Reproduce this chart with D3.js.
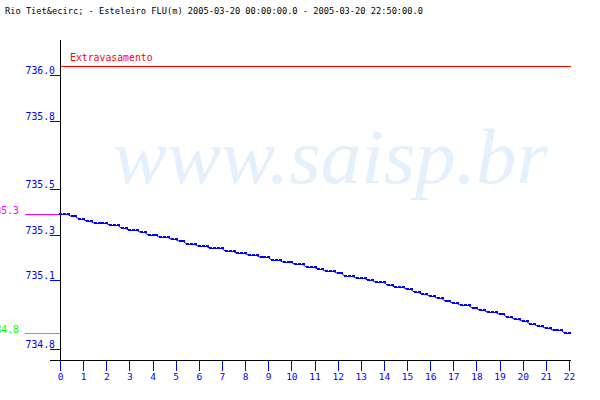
<!DOCTYPE html>
<html><head><meta charset="utf-8">
<script src="https://cdn.jsdelivr.net/npm/d3@7"></script>
<style>
html,body{margin:0;padding:0;background:#fff;}
svg{display:block;}
text{font-family:"DejaVu Sans Mono",monospace;}
</style></head>
<body>
<svg id="chart" width="600" height="400"></svg>
<script>
const title = "Rio Tiet&ecirc; - Esteleiro FLU(m) 2005-03-20 00:00:00.0 - 2005-03-20 22:50:00.0";
const watermark = "www.saisp.br";
const overflowLabel = "Extravasamento";
const overflowLevel = 736.0;
const xTicks = [0,1,2,3,4,5,6,7,8,9,10,11,12,13,14,15,16,17,18,19,20,21,22];
const yTicks = [736.0, 735.8, 735.5, 735.3, 735.1, 734.8];
const yTickLabels = ["736.0","735.8","735.5","735.3","735.1","734.8"];
const maxLabel = "735.3";
const minLabel = "734.8";
const stepMinutes = 10;
// water level (m), every 10 minutes from 00:00
const levels = [
735.39,735.39,735.39,735.38,735.38,735.37,
735.37,735.36,735.36,735.35,735.35,735.35,
735.35,735.34,735.34,735.34,735.33,735.33,
735.32,735.32,735.32,735.31,735.31,735.30,
735.30,735.30,735.29,735.29,735.29,735.28,
735.28,735.27,735.27,735.26,735.26,735.26,
735.25,735.25,735.25,735.24,735.24,735.24,
735.24,735.23,735.23,735.23,735.22,735.22,
735.22,735.21,735.21,735.21,735.20,735.20,
735.20,735.19,735.19,735.19,735.18,735.18,
735.18,735.17,735.17,735.17,735.16,735.16,
735.16,735.15,735.15,735.14,735.14,735.14,
735.13,735.13,735.12,735.12,735.12,735.11,
735.11,735.11,735.10,735.10,735.09,735.09,
735.09,735.08,735.08,735.07,735.07,735.07,
735.06,735.06,735.05,735.05,735.04,735.04,
735.03,735.03,735.02,735.02,735.01,735.01,
735.00,735.00,734.99,734.99,734.99,734.98,
734.98,734.97,734.97,734.96,734.96,734.96,
734.95,734.95,734.94,734.94,734.93,734.93,
734.92,734.92,734.91,734.91,734.90,734.90,
734.89,734.89,734.88,734.88,734.88,734.87,
734.87
];
const flaggedSegments = [26];

const svg = d3.select("#chart");
const x = d3.scaleLinear().domain([0, 22]).range([60, 569]);
const y = d3.scaleLinear().domain([734.8, 736.0]).range([348.6, 75]);
const px = v => Math.round(v) + 0.5;

// watermark
svg.append("text").attr("x", 113).attr("y", 183)
  .attr("textLength", 435).attr("lengthAdjust", "spacingAndGlyphs")
  .style("font-family", "'Liberation Serif','DejaVu Serif',serif")
  .style("font-style", "italic").style("font-size", "78px")
  .attr("fill", "#e4f1fd").text(watermark);

// title
svg.append("text").attr("x", 5).attr("y", 14)
  .attr("textLength", 418).attr("lengthAdjust", "spacingAndGlyphs")
  .style("font-size", "9px").attr("fill", "#000").text(title);

// overflow line
svg.append("line").attr("x1", 60).attr("x2", 571)
  .attr("y1", px(y(overflowLevel)) - 9).attr("y2", px(y(overflowLevel)) - 9)
  .attr("stroke", "#ff0000").attr("shape-rendering", "crispEdges");
svg.append("text").attr("x", 70).attr("y", y(overflowLevel) - 14)
  .style("font-size", "9.8px").attr("fill", "#ff0000").text(overflowLabel);

// axes lines
svg.append("line").attr("x1", 60.5).attr("x2", 60.5).attr("y1", 40).attr("y2", 360)
  .attr("stroke", "#000").attr("shape-rendering", "crispEdges");
svg.append("line").attr("x1", 50).attr("x2", 571).attr("y1", 360.5).attr("y2", 360.5)
  .attr("stroke", "#000").attr("shape-rendering", "crispEdges");

// x axis
const xAxis = d3.axisBottom(x).tickValues(xTicks).tickSize(10).tickPadding(2).tickFormat(d3.format("d"));
const gx = svg.append("g").attr("transform", "translate(0,361)").call(xAxis);
gx.select(".domain").remove();
gx.selectAll("line").attr("stroke", "#0000ff").attr("shape-rendering", "crispEdges");
gx.selectAll("text").attr("fill", "#0000ff").style("font-family", "'DejaVu Sans Mono',monospace")
  .style("font-size", "9.5px").attr("dy", "0.72em");

// y axis
const yAxis = d3.axisLeft(y).tickValues(yTicks).tickSize(10).tickPadding(0)
  .tickFormat((d, i) => yTickLabels[i]);
const gy = svg.append("g").attr("transform", "translate(60,0)").call(yAxis);
gy.select(".domain").remove();
gy.selectAll(".tick").attr("transform", d => `translate(0,${px(y(d))})`);
gy.selectAll("line").attr("stroke", "#0000ff").attr("shape-rendering", "crispEdges");
gy.selectAll("text").attr("fill", "#0000ff").style("font-family", "'DejaVu Sans Mono',monospace")
  .style("font-size", "9.8px").attr("x", -5).attr("dy", "-1.5");

// max / min markers
const vmax = d3.max(levels), vmin = d3.min(levels);
svg.append("line").attr("x1", 25).attr("x2", 60).attr("y1", px(y(vmax))).attr("y2", px(y(vmax)))
  .attr("stroke", "#ff00ff").attr("shape-rendering", "crispEdges");
svg.append("text").attr("x", 19).attr("y", Math.round(y(vmax)) - 0.5).attr("text-anchor", "end")
  .style("font-size", "9.8px").attr("fill", "#ff00ff").text(maxLabel);
svg.append("line").attr("x1", 25).attr("x2", 60).attr("y1", px(y(vmin))).attr("y2", px(y(vmin)))
  .attr("stroke", "#00ff00").attr("shape-rendering", "crispEdges");
svg.append("text").attr("x", 19).attr("y", Math.round(y(vmin)) - 0.5).attr("text-anchor", "end")
  .style("font-size", "9.8px").attr("fill", "#00ff00").text(minLabel);

// data
const data = levels.map((v, i) => ({t: i * stepMinutes / 60, v}));
const line = d3.line().x(d => x(d.t)).y(d => Math.round(y(d.v)) + 0.5);
svg.append("path").datum(data).attr("d", line)
  .attr("fill", "none").attr("stroke", "#0000ff").attr("stroke-width", 1);
flaggedSegments.forEach(i => {
  svg.append("path").datum([data[i], data[i + 1]]).attr("d", line)
    .attr("fill", "none").attr("stroke", "#ff0000").attr("stroke-width", 1.2);
});
svg.append("g").selectAll("rect").data(data).join("rect")
  .attr("x", d => Math.round(x(d.t)) - 1).attr("y", d => Math.round(y(d.v)) - 1)
  .attr("width", 3).attr("height", 2).attr("fill", "#0000ff")
  .attr("shape-rendering", "crispEdges");
</script>
</body></html>
